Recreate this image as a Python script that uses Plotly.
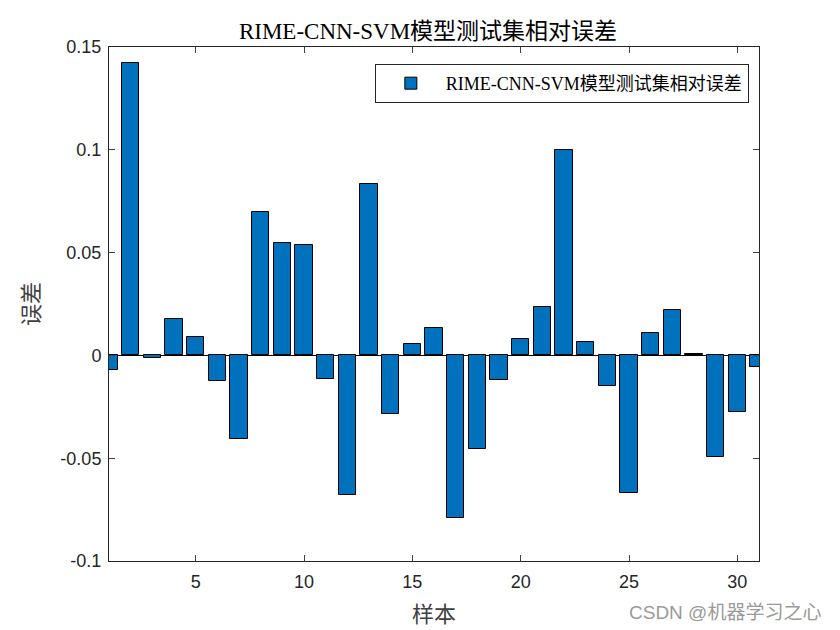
import plotly.graph_objects as go

# sample index and relative error of the test set
samples = list(range(1, 32))
rel_error = [-0.0070, 0.1423, -0.0015, 0.0178, 0.0091, -0.0123, -0.0405, 0.0698,
             0.0548, 0.0538, -0.0113, -0.0677, 0.0835, -0.0287, 0.0057, 0.0135,
             -0.0789, -0.0454, -0.0118, 0.0081, 0.0237, 0.1000, 0.0067, -0.0147,
             -0.0667, 0.0110, 0.0222, 0.0008, -0.0492, -0.0274, -0.0055]

y_ticks = [-0.1, -0.05, 0, 0.05, 0.1, 0.15]
y_tick_text = ["-0.1", "-0.05", "0", "0.05", "0.1", "0.15"]
x_ticks = [5, 10, 15, 20, 25, 30]

title_txt = "RIME-CNN-SVM模型测试集相对误差"

fig = go.Figure()
fig.add_trace(go.Bar(
    x=samples, y=rel_error,
    width=0.8,
    name=title_txt,
    marker=dict(color="#0072BD", line=dict(color="black", width=1)),
))

tick_font = dict(family="Liberation Sans, Arial", size=18, color="#262626")
serif = "Liberation Serif, Times New Roman, Noto Sans CJK SC"

# the page body adds an 8px margin, so margins are shifted by that
fig.update_layout(
    width=840, height=630,
    margin=dict(l=101, r=89, t=39, b=77),
    plot_bgcolor="white", paper_bgcolor="white",
    title=dict(text=title_txt, x=0.5, xanchor="center", y=0.963, yanchor="middle",
               font=dict(family=serif, size=23, color="black")),
    showlegend=True,
    legend=dict(x=0.409, y=0.967, xanchor="left", yanchor="top",
                bgcolor="white", bordercolor="#262626", borderwidth=1,
                itemwidth=60,
                font=dict(family=serif, size=18, color="black")),
    bargap=0,
)
fig.update_xaxes(
    range=[1, 31], tickvals=x_ticks, ticks="inside", ticklen=6,
    showline=True, linecolor="#262626", linewidth=1, mirror="ticks",
    showgrid=False, zeroline=False, tickfont=tick_font, ticklabelstandoff=4,
    title=dict(text="样本", font=dict(family=serif, size=22, color="#404040"), standoff=16),
)
fig.update_yaxes(
    range=[-0.1, 0.15], tickvals=y_ticks, ticktext=y_tick_text, ticks="inside", ticklen=6,
    showline=True, linecolor="#262626", linewidth=1, mirror="ticks",
    showgrid=False, zeroline=True, zerolinecolor="black", zerolinewidth=1,
    tickfont=tick_font, ticklabelstandoff=3,
    title=dict(text="误差", font=dict(family=serif, size=22, color="#404040"), standoff=14),
)

# watermark
fig.add_annotation(text="CSDN @机器学习之心", xref="paper", yref="paper",
                   x=1.098, y=-0.1, xanchor="right", yanchor="middle", showarrow=False,
                   font=dict(family="Liberation Sans, Noto Sans CJK SC", size=19, color="#9a9a9a"))

fig.write_html("out.html")
